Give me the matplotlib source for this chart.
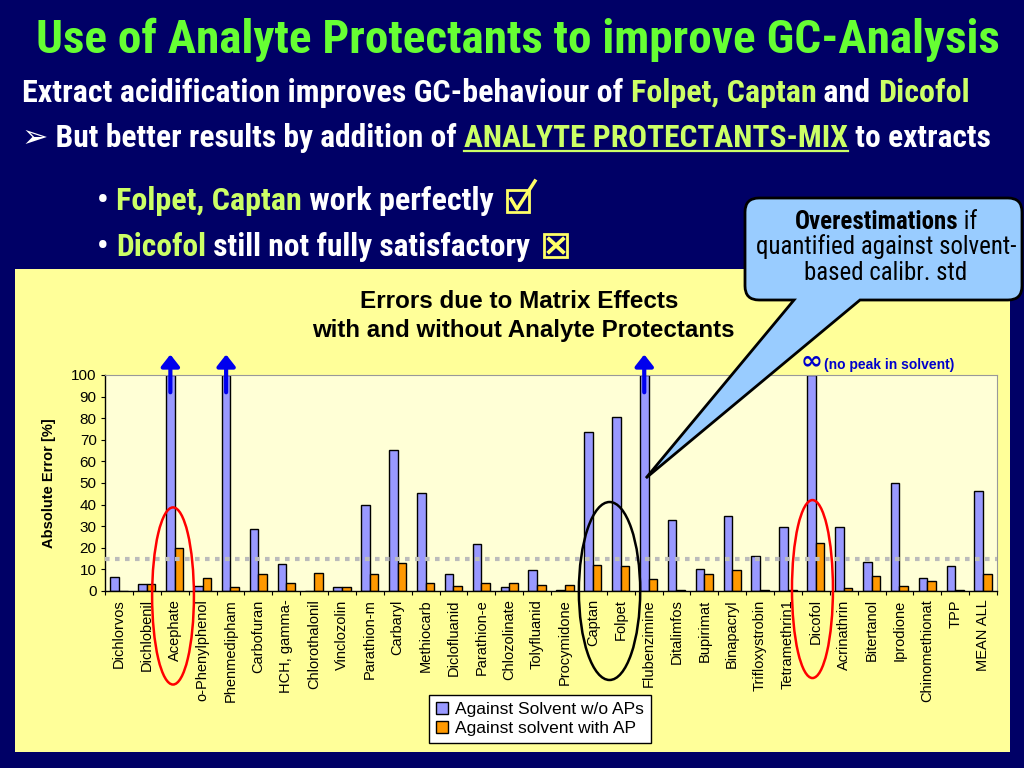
import matplotlib
matplotlib.use('Agg')
import matplotlib.pyplot as plt
import matplotlib.transforms as mtransforms
from matplotlib.patches import Rectangle, Ellipse, PathPatch
from matplotlib.path import Path
from matplotlib.lines import Line2D
import numpy as np

# data (absolute error, %), 100 = off scale
compounds = ['Dichlorvos', 'Dichlobenil', 'Acephate', 'o-Phenylphenol', 'Phenmedipham',
             'Carbofuran', 'HCH, gamma-', 'Chlorothalonil', 'Vinclozolin', 'Parathion-m',
             'Carbaryl', 'Methiocarb', 'Diclofluanid', 'Parathion-e', 'Chlozolinate',
             'Tolyfluanid', 'Procymidone', 'Captan', 'Folpet', 'Flubenzimine', 'Ditalimfos',
             'Bupirimat', 'Binapacryl', 'Trifloxystrobin', 'Tetramethrin1', 'Dicofol',
             'Acrinathrin', 'Bitertanol', 'Iprodione', 'Chinomethionat', 'TPP', 'MEAN ALL']
without_ap = [6.5, 3.4, 100, 2.3, 100, 28.5, 12.6, 0, 1.8, 39.8,
              65.5, 45.5, 8.0, 21.9, 1.8, 9.6, 0.3, 73.8, 80.4, 100,
              33.1, 10.0, 34.7, 16.2, 29.6, 100, 29.6, 13.6, 50.1, 5.9, 11.6, 46.5]
with_ap = [0, 3.4, 19.7, 5.9, 1.8, 8.0, 3.9, 8.5, 1.8, 8.0,
           13.1, 3.9, 2.5, 3.9, 3.9, 2.9, 2.9, 12.2, 11.6, 5.4,
           0.3, 8.0, 9.6, 0.3, 0.3, 22.3, 1.4, 6.9, 2.3, 4.5, 0.3, 8.0]
off_scale = ['Acephate', 'Phenmedipham', 'Flubenzimine']
no_peak = 'Dicofol'
tolerance = 15
yticks = list(range(0, 101, 10))

NAVY = '#000066'
GREEN = '#66FF33'
LIME = '#CCFF66'
SLIDE_FONT = ['Roboto Condensed', 'Liberation Sans', 'DejaVu Sans']
CHART_FONT = ['Liberation Sans', 'DejaVu Sans']
BUBBLE_FONT = ['Roboto Condensed', 'Liberation Sans', 'DejaVu Sans']

fig = plt.figure(figsize=(10.24, 7.68), dpi=100, facecolor=NAVY)
# top-left origin pixel coordinates
px = mtransforms.Affine2D().scale(1 / 1024, -1 / 768).translate(0, 1) + fig.transFigure
renderer = fig.canvas.get_renderer()

fig.add_artist(Rectangle((15, 269), 995, 483, transform=px, facecolor='#FFFF99',
                         edgecolor='none', zorder=-5))


def text_w(s, size, weight, family):
    t = fig.text(0, 0, s + '|', fontsize=size, weight=weight, family=family)
    a = t.get_window_extent(renderer).width
    t.set_text('|')
    b = t.get_window_extent(renderer).width
    t.remove()
    return a - b


def rich_line(parts, x0, base, x1=None, size=None, family=SLIDE_FONT, zorder=3):
    # parts: (text, colour, weight); fit to x0..x1 if no size given
    if size is None:
        total = sum(text_w(s, 20, w, family) for s, c, w in parts)
        size = 20 * (x1 - x0) / total
    spans = []
    x = x0
    for s, c, w in parts:
        fig.text(x, base, s, transform=px, color=c, fontsize=size, weight=w,
                 family=family, ha='left', va='baseline', zorder=zorder)
        wd = text_w(s, size, w, family)
        spans.append((x, x + wd))
        x += wd
    return size, spans


B = 'bold'
rich_line([('Use of Analyte Protectants to improve GC-Analysis', GREEN, B)], 36, 53, x1=1000)
rich_line([('Extract acidification improves GC-behaviour of ', 'white', B),
           ('Folpet, Captan', LIME, B), (' and ', 'white', B), ('Dicofol', LIME, B)],
          22, 102, x1=965)
_, spans = rich_line([('\u27a2 But better results by addition of ', 'white', B),
                      ('ANALYTE PROTECTANTS-MIX', LIME, B), (' to extracts', 'white', B)],
                     22, 147, x1=990)
fig.add_artist(Line2D([spans[1][0], spans[1][1]], [151, 151], transform=px, color=LIME, lw=1.6))
rich_line([('\u2022 ', 'white', B), ('Folpet, Captan', LIME, B), (' work perfectly', 'white', B)],
          97, 210, x1=492)
rich_line([('\u2022 ', 'white', B), ('Dicofol', LIME, B), (' still not fully satisfactory', 'white', B)],
          97, 256, x1=530)

# check / cross boxes
YEL = '#FFFF66'
fig.add_artist(Rectangle((507, 190), 22, 22, transform=px, facecolor='none', edgecolor=YEL, lw=2))
fig.add_artist(Line2D([511, 517, 535], [199, 209, 181], transform=px, color=YEL, lw=2.5))
fig.add_artist(Rectangle((544, 234), 23, 23, transform=px, facecolor='none', edgecolor=YEL, lw=2))
fig.add_artist(Line2D([549, 563], [239, 252], transform=px, color=YEL, lw=2.8))
fig.add_artist(Line2D([563, 549], [239, 252], transform=px, color=YEL, lw=2.8))

# chart titles
rich_line([('Errors due to Matrix Effects', 'black', B)], 360, 308, x1=678, family=CHART_FONT)
rich_line([('with and without Analyte Protectants', 'black', B)], 312, 337, x1=734, family=CHART_FONT)

# bar chart
ax = fig.add_axes([105 / 1024, 1 - 591 / 768, 892 / 1024, 216 / 768], facecolor='#FFFFD6')
x = np.arange(len(compounds))
w = 0.31
b1 = ax.bar(x - w, without_ap, w, align='edge', color='#9999FF', edgecolor='black', lw=1,
            label='Against Solvent w/o APs', zorder=2)
b2 = ax.bar(x, with_ap, w, align='edge', color='#FF9900', edgecolor='black', lw=1,
            label='Against solvent with AP', zorder=2)
ax.axhline(tolerance, color='#BBBBBB', lw=3, ls=(0, (1.1, 1.3)), zorder=3)

ax.set_xlim(-0.5, len(compounds) - 0.5)
ax.set_ylim(0, 100)
ax.set_yticks(yticks)
ax.set_yticklabels([str(v) for v in yticks], fontsize=11, family=CHART_FONT)
ax.set_xticks(np.arange(-0.5, len(compounds), 1))
ax.set_xticklabels([])
ax.set_xticks(x, minor=True)
ax.set_xticklabels(compounds, minor=True, rotation=90, fontsize=10.5, family=CHART_FONT)
ax.tick_params(axis='x', which='major', length=3, direction='out', color='black')
ax.tick_params(axis='x', which='minor', length=0, pad=6)
ax.tick_params(axis='y', length=3, direction='out', pad=3)
for s in ['left', 'bottom']:
    ax.spines[s].set_color('black')
    ax.spines[s].set_linewidth(1)
for s in ['top', 'right']:
    ax.spines[s].set_color('#999999')
    ax.spines[s].set_linewidth(0.8)
ax.set_ylabel('Absolute Error [%]', fontsize=10.5, weight='bold', family=CHART_FONT)
ax.yaxis.set_label_coords(-0.055, 0.5)

for name in off_scale:
    xb = compounds.index(name) - w / 2
    ax.annotate('', xy=(xb, 109.5), xytext=(xb, 92), annotation_clip=False,
                arrowprops=dict(arrowstyle='-|>,head_width=0.55,head_length=0.7', color='#0000EE',
                                lw=3, mutation_scale=10, shrinkA=0, shrinkB=0))

xd = compounds.index(no_peak) - w / 2
ax.text(xd, 100.5, '\u221e', fontsize=19, weight='bold', color='#0000CC', ha='center',
        va='bottom', family='DejaVu Sans', clip_on=False)
ax.text(xd + 0.45, 101.3, '(no peak in solvent)', fontsize=10, weight='bold', color='#0000CC',
        ha='left', va='bottom', family=CHART_FONT, clip_on=False)

# highlight ellipses
ia = compounds.index('Acephate')
ax.add_patch(Ellipse((ia - 0.06, -2.3), 1.5, 82, fill=False, edgecolor='red', lw=1.8,
                     clip_on=False, zorder=6))
ic = (compounds.index('Captan') + compounds.index('Folpet')) / 2
ax.add_patch(Ellipse((ic + 0.1, 0), 2.2, 82.4, fill=False, edgecolor='black', lw=1.8,
                     clip_on=False, zorder=6))
idc = compounds.index('Dicofol')
ax.add_patch(Ellipse((idc - 0.12, 0.9), 1.47, 82.4, fill=False, edgecolor='red', lw=1.8,
                     clip_on=False, zorder=6))

fig.legend(handles=[b1, b2], loc='upper center', bbox_to_anchor=(540 / 1024, 1 - 695 / 768),
           prop={'family': CHART_FONT, 'size': 12.5}, frameon=True, fancybox=False,
           edgecolor='black', facecolor='white', framealpha=1, handlelength=0.7,
           handleheight=0.7, handletextpad=0.4, borderpad=0.4, labelspacing=0.2,
           borderaxespad=0)

# callout bubble with tail
L, T, R, Bt, r = 745, 198, 1022, 300, 14
verts = [(L + r, T), (R - r, T), (R, T), (R, T + r), (R, Bt - r), (R, Bt), (R - r, Bt),
         (860, Bt), (646, 478), (794, Bt), (L + r, Bt), (L, Bt), (L, Bt - r), (L, T + r),
         (L, T), (L + r, T), (L + r, T)]
codes = [Path.MOVETO, Path.LINETO, Path.CURVE3, Path.CURVE3, Path.LINETO, Path.CURVE3,
         Path.CURVE3, Path.LINETO, Path.LINETO, Path.LINETO, Path.LINETO, Path.CURVE3,
         Path.CURVE3, Path.LINETO, Path.CURVE3, Path.CURVE3, Path.CLOSEPOLY]
fig.add_artist(PathPatch(Path(verts, codes), transform=px, facecolor='#99CCFF',
                         edgecolor='black', lw=2, zorder=10))

cs, _ = rich_line([('quantified against solvent-', 'black', 'normal')], 756, 254, x1=1016,
                  family=BUBBLE_FONT, zorder=11)
for parts, base in [([('Overestimations', 'black', B), (' if', 'black', 'normal')], 229),
                    ([('based calibr. std', 'black', 'normal')], 280)]:
    wd = sum(text_w(s, cs, wt, BUBBLE_FONT) for s, c, wt in parts)
    rich_line(parts, 886 - wd / 2, base, size=cs, family=BUBBLE_FONT, zorder=11)

fig.savefig('out.png', dpi=100, facecolor=NAVY)
